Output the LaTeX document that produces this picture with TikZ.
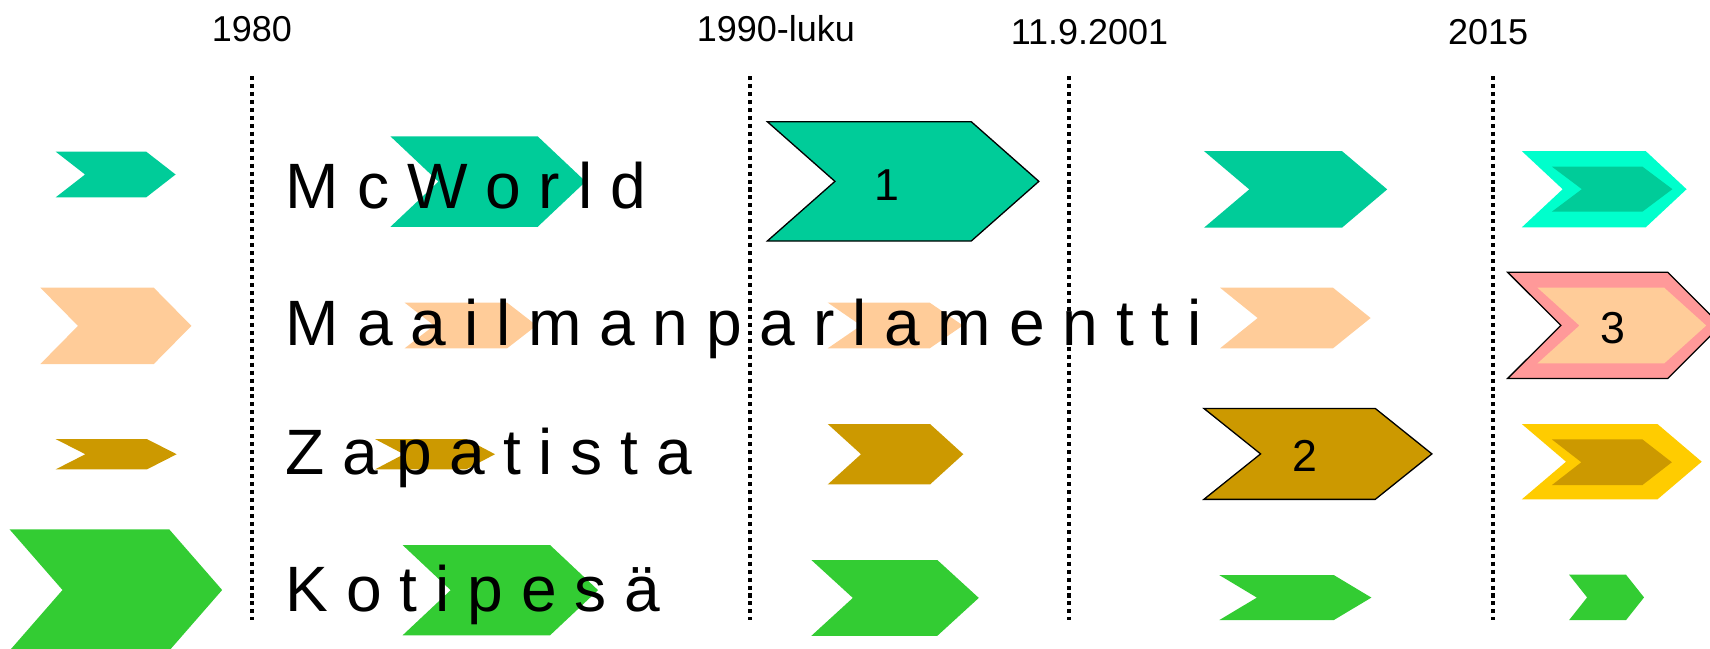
\documentclass[tikz,border=0pt]{standalone}
\usepackage{fontspec}
\setmainfont{Liberation Sans}
\definecolor{cteal}{HTML}{00CC99}
\definecolor{caqua}{HTML}{00FFCC}
\definecolor{cpeach}{HTML}{FFCC99}
\definecolor{cpink}{HTML}{FF9999}
\definecolor{cgold}{HTML}{CC9900}
\definecolor{cyellow}{HTML}{FFCC00}
\definecolor{cgreen}{HTML}{33CC33}
% \chev[style]{left}{top-right}{top}{bottom}{depth}
\newcommand{\chev}[6][]{\path[#1] (#2,#4) -- (#3,#4) -- ({#3+#6},{(#4+#5)/2}) -- (#3,#5) -- (#2,#5) -- ({#2+#6},{(#4+#5)/2}) -- cycle;}
\tikzset{
  tealfill/.style={fill=cteal},
  aquafill/.style={fill=caqua},
  peachfill/.style={fill=cpeach},
  pinkfill/.style={fill=cpink},
  goldfill/.style={fill=cgold},
  yellowfill/.style={fill=cyellow},
  greenfill/.style={fill=cgreen},
  outlined/.style={draw=black, line width=1.2pt, line join=miter},
  timeline/.style={draw=black, line width=3.7pt, dash pattern=on 3.7pt off 3.6pt},
  yearlbl/.style={anchor=base, inner sep=0pt, font=\fontsize{33}{36}\selectfont},
  rowlbl/.style={anchor=base west, inner sep=0pt, font=\fontsize{58.8}{62}\selectfont},
  numlbl/.style={anchor=base, inner sep=0pt, font=\fontsize{41}{44}\selectfont},
}
\begin{document}
\begin{tikzpicture}[x=1pt,y=-1pt]
\useasboundingbox (0,0) rectangle (1568,595);
% year labels
\node[yearlbl] (y1980) at (231,38) {1980};
\node[yearlbl] (y1990) at (711.5,38) {1990-luku};
\node[yearlbl] (y2001) at (999,41) {11.9.2001};
\node[yearlbl] (y2015) at (1364.6,41) {2015};
% dotted time lines
\draw[timeline] (231,69.7) -- (231,568.6);
\draw[timeline] (688,69.7) -- (688,568.6);
\draw[timeline] (980.5,69.7) -- (980.5,568.6);
\draw[timeline] (1368.7,69.7) -- (1368.7,568.6);
% row A (McWorld)
\chev[tealfill]{51}{134}{139}{181}{27}
\chev[tealfill]{358}{493}{125}{208}{44}
\chev[tealfill,outlined]{703.6}{890.6}{111.6}{221}{62}
\chev[tealfill]{1104}{1230.5}{138.5}{208.8}{41.5}
\chev[aquafill]{1395.4}{1509}{138.5}{208.5}{37.5}
\chev[tealfill]{1423}{1506}{152.8}{194.1}{27.5}
% row B (Maailmanparlamentti)
\chev[peachfill]{37}{141}{263.8}{333.8}{34.5}
\chev[peachfill]{371}{465}{277.5}{319.4}{27}
\chev[peachfill]{759}{852.5}{277.5}{319.4}{30.5}
\chev[peachfill]{1118.7}{1222.3}{263.8}{319.4}{34.5}
\chev[pinkfill,outlined]{1382.5}{1529.3}{249.7}{347}{48.7}
\chev[peachfill]{1409.8}{1526}{263.8}{333.2}{38.5}
% row C (Zapatista)
\chev[goldfill]{51}{134.7}{402.6}{430.4}{27.3}
\chev[goldfill]{343.9}{427.5}{402.6}{430.4}{26.4}
\chev[goldfill]{759}{852.8}{388.8}{444.2}{30.5}
\chev[goldfill,outlined]{1103.9}{1261}{374.5}{457.9}{52}
\chev[yellowfill]{1395.4}{1519.8}{388.8}{457.9}{40.6}
\chev[goldfill]{1423}{1506}{402.9}{444.8}{27}
% row D (Kotipesa)
\chev[greenfill]{8.8}{155.2}{485.4}{596.6}{48.5}
\chev[greenfill]{369.2}{504.4}{499.8}{582.5}{44}
\chev[greenfill]{744}{859.5}{513.5}{583}{38}
\chev[greenfill]{1118}{1223}{527.3}{568.6}{34.5}
\chev[greenfill]{1438.8}{1491}{527}{568.6}{16.5}
% numbers
\node[numlbl] (n1) at (813,183.4) {1};
\node[numlbl] (n2) at (1196.6,432.5) {2};
\node[numlbl] (n3) at (1479,314.8) {3};
% row labels
\node[rowlbl] (mcw) at (262,191) {M c W o r l d};
\node[rowlbl] (maa) at (262,316.4) {M a a i l m a n p a r l a m e n t t i};
\node[rowlbl] (zap) at (262,435) {Z a p a t i s t a};
\node[rowlbl] (kot) at (262,560.3) {K o t i p e s ä};
\end{tikzpicture}
\end{document}
